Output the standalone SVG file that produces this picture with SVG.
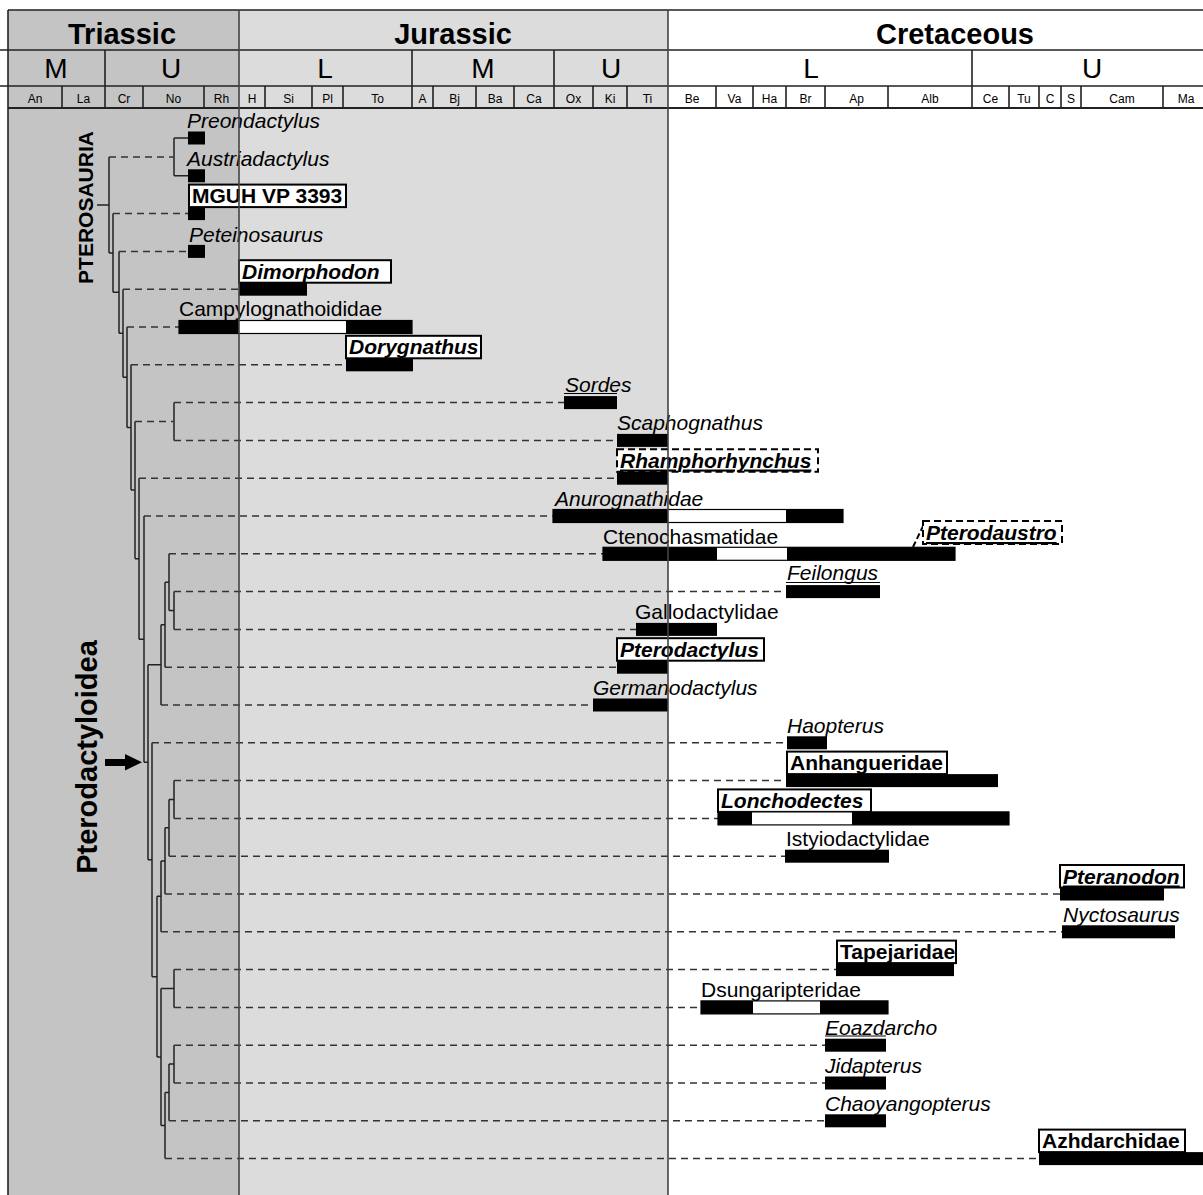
<svg xmlns="http://www.w3.org/2000/svg" width="1203" height="1195" viewBox="0 0 1203 1195">
<style>
text{font-family:"Liberation Sans",Arial,sans-serif;fill:#000}
.h1{font-size:29px;font-weight:bold;text-anchor:middle}
.h2{font-size:28px;text-anchor:middle}
.h3{font-size:12px;text-anchor:middle}
.t{font-size:21px}
.i{font-size:21px;font-style:italic}
.b{font-size:21px;font-weight:bold}
.bi{font-size:21px;font-weight:bold;font-style:italic}
.u{text-decoration:underline}
.box{fill:#fff;stroke:#000;stroke-width:2}
.dbox{fill:#fff;stroke:#000;stroke-width:2;stroke-dasharray:7 4}
.bar{fill:#000}
.wbar{fill:#fff;stroke:#000;stroke-width:1.2}
.grid{stroke:#222;stroke-width:1.6;fill:none}
.per{stroke:#444;stroke-width:1.6}
.tr{stroke:#222;stroke-width:1.5;fill:none}
.dl{stroke:#333;stroke-width:1.5;stroke-dasharray:7 5;fill:none}
.ul{stroke:#000;stroke-width:1.2}
</style>
<rect x="0" y="0" width="1203" height="1195" fill="#fff"/>
<!-- backgrounds -->
<rect x="8" y="10" width="231" height="1185" fill="#c4c4c4"/>
<rect x="239" y="10" width="429" height="1185" fill="#dcdcdc"/>
<!-- header -->
<g id="header">
<path class="grid" d="M8 10H1203M0 50H1203M0 86H1203"/>
<path d="M8 108H1203" stroke="#222" stroke-width="2.2"/>
<path class="grid" d="M8 10V1195"/>
<path class="grid" d="M105 50V108M412 50V108M554 50V108M972 50V108"/>
<path class="grid" d="M62 86V108M143 86V108M204 86V108M265 86V108M312 86V108M343 86V108M433 86V108M476 86V108M514 86V108M593 86V108M627 86V108M716 86V108M753 86V108M786 86V108M825 86V108M888 86V108M1009 86V108M1039 86V108M1061 86V108M1081 86V108M1163 86V108"/>
<text class="h1" x="122" y="44">Triassic</text>
<text class="h1" x="453" y="44">Jurassic</text>
<text class="h1" x="955" y="44">Cretaceous</text>
<text class="h2" x="56" y="78">M</text>
<text class="h2" x="171" y="78">U</text>
<text class="h2" x="325" y="78">L</text>
<text class="h2" x="483" y="78">M</text>
<text class="h2" x="611" y="78">U</text>
<text class="h2" x="811" y="78">L</text>
<text class="h2" x="1092" y="78">U</text>
<text class="h3" x="35" y="103">An</text>
<text class="h3" x="83.5" y="103">La</text>
<text class="h3" x="124" y="103">Cr</text>
<text class="h3" x="173.5" y="103">No</text>
<text class="h3" x="221.5" y="103">Rh</text>
<text class="h3" x="252" y="103">H</text>
<text class="h3" x="288.5" y="103">Si</text>
<text class="h3" x="327.5" y="103">Pl</text>
<text class="h3" x="377.5" y="103">To</text>
<text class="h3" x="422.5" y="103">A</text>
<text class="h3" x="454.5" y="103">Bj</text>
<text class="h3" x="495" y="103">Ba</text>
<text class="h3" x="534" y="103">Ca</text>
<text class="h3" x="573.5" y="103">Ox</text>
<text class="h3" x="610" y="103">Ki</text>
<text class="h3" x="647.5" y="103">Ti</text>
<text class="h3" x="692" y="103">Be</text>
<text class="h3" x="734.5" y="103">Va</text>
<text class="h3" x="769.5" y="103">Ha</text>
<text class="h3" x="805.5" y="103">Br</text>
<text class="h3" x="856.5" y="103">Ap</text>
<text class="h3" x="930" y="103">Alb</text>
<text class="h3" x="990.5" y="103">Ce</text>
<text class="h3" x="1024" y="103">Tu</text>
<text class="h3" x="1050" y="103">C</text>
<text class="h3" x="1071" y="103">S</text>
<text class="h3" x="1122" y="103">Cam</text>
<text class="h3" x="1186" y="103">Ma</text>
</g>
<!-- clade labels -->
<g id="clade-labels">
<text class="b" transform="translate(93,207.5) rotate(-90)" text-anchor="middle">PTEROSAURIA</text>
<text class="b" style="font-size:29px" transform="translate(97,757) rotate(-90)" text-anchor="middle">Pterodactyloidea</text>
<path d="M105 759H125V754L142 762.3L125 770.5V766H105Z" fill="#000"/>
</g>
<!-- connectors -->
<g id="connectors">
<path class="tr" d="M97 204.9H109M109 156.9V252.95M174 138V175.8M174 138H188M174 175.8H188M109 252.95H113M113 213.6V292.3M113 292.3H119M119 251.4V333.2M119 333.2H123M123 289.2V377.2M123 377.2H127M127 327V427.45M127 427.45H131M131 364.8V490.1M131 490.1H135M135 421.5V558.7M174 402.6V440.4M135 558.7H139M139 478.2V639.15M139 639.15H144M144 516V762.3M144 762.3H148M148 664.85V859.75M148 664.85H161M161 624.7V705M161 624.7H165M165 582.15V667.2M165 582.15H169M169 553.8V610.5M169 610.5H174M174 591.6V629.4M148 859.75H152M152 742.8V976.7M152 976.7H157M157 896.35V1057M157 896.35H161M161 860.9V931.8M161 860.9H165M165 827.85V894M165 827.85H169M169 799.5V856.2M169 799.5H174M174 780.6V818.4M157 1057H161M161 988.5V1125.5M161 988.5H174M174 969.6V1007.4M161 1125.5H165M165 1092.45V1158.6M165 1092.45H169M169 1064.1V1120.8M169 1064.1H174M174 1045.2V1083"/>
<path class="dl" d="M109 156.9H174M135 421.5H174"/>
<path class="dl" d="M113 213.6H188M119 251.4H188M123 289.2H239M127 327H179M131 364.8H346M174 402.6H564M174 440.4H617M139 478.2H617M144 516H553M169 553.8H603M174 591.6H786M174 629.4H636M165 667.2H617M161 705H593M152 742.8H787M174 780.6H786M174 818.4H718M169 856.2H785M165 894H1060M161 931.8H1062M174 969.6H836M174 1007.4H701M174 1045.2H825M174 1083H825M169 1120.8H825M165 1158.6H1039"/>
</g>
<!-- taxa -->
<g id="preondactylus"><rect class="bar" x="188" y="131.5" width="17" height="13"/><text class="i" x="187" y="128">Preondactylus</text></g>
<g id="austriadactylus"><rect class="bar" x="188" y="169.3" width="17" height="13"/><text class="i" x="187" y="166">Austriadactylus</text></g>
<g id="mguh"><rect class="box" x="189" y="184.6" width="157" height="22.5"/><rect class="bar" x="188" y="207.1" width="17" height="13"/><text class="b" x="192" y="203">MGUH VP 3393</text></g>
<g id="peteinosaurus"><rect class="bar" x="188" y="244.9" width="17" height="13"/><text class="i" x="189" y="242">Peteinosaurus</text></g>
<g id="dimorphodon"><rect class="box" x="239" y="260.2" width="152" height="22.5"/><rect class="bar" x="239" y="282.7" width="68" height="13"/><text class="bi" x="242" y="278.5">Dimorphodon</text></g>
<g id="campylognathoididae"><rect class="wbar" x="179" y="320.5" width="233" height="13"/><rect class="bar" x="179" y="320.5" width="60" height="13"/><rect class="bar" x="346" y="320.5" width="66" height="13"/><text class="t" x="179" y="316">Campylognathoididae</text></g>
<g id="dorygnathus"><rect class="box" x="346" y="335.8" width="135" height="22.5"/><rect class="bar" x="346" y="358.3" width="67" height="13"/><text class="bi" x="349" y="354">Dorygnathus</text></g>
<g id="sordes"><rect class="bar" x="564" y="396.1" width="53" height="13"/><path class="ul" d="M564 393.5H617"/><text class="i" x="565" y="392">Sordes</text></g>
<g id="scaphognathus"><rect class="bar" x="617" y="433.9" width="51" height="13"/><text class="i" x="617" y="430">Scaphognathus</text></g>
<g id="rhamphorhynchus"><rect class="dbox" x="617" y="449.2" width="201" height="22.5"/><rect class="bar" x="617" y="471.7" width="51" height="13"/><text class="bi u" x="620" y="467.5">Rhamphorhynchus</text></g>
<g id="anurognathidae"><rect class="wbar" x="553" y="509.5" width="290" height="13"/><rect class="bar" x="553" y="509.5" width="115" height="13"/><rect class="bar" x="786" y="509.5" width="57" height="13"/><text class="i" x="555" y="506">Anurognathidae</text></g>
<g id="ctenochasmatidae"><rect class="wbar" x="603" y="547.3" width="352" height="13"/><rect class="bar" x="603" y="547.3" width="114" height="13"/><rect class="bar" x="787" y="547.3" width="168" height="13"/><text class="t" x="603" y="544">Ctenochasmatidae</text></g>
<g id="pterodaustro"><path d="M913 547L925 522" stroke="#000" stroke-width="2" stroke-dasharray="6 3"/><rect class="dbox" x="923" y="521" width="139" height="23"/><text class="bi u" x="926" y="540">Pterodaustro</text></g>
<g id="feilongus"><rect class="bar" x="786" y="585.1" width="94" height="13"/><path class="ul" d="M786 582.5H880"/><text class="i" x="787" y="580">Feilongus</text></g>
<g id="gallodactylidae"><rect class="bar" x="636" y="622.9" width="81" height="13"/><text class="t" x="635" y="619">Gallodactylidae</text></g>
<g id="pterodactylus"><rect class="box" x="617" y="638.2" width="147" height="22.5"/><rect class="bar" x="617" y="660.7" width="51" height="13"/><text class="bi" x="620" y="656.5">Pterodactylus</text></g>
<g id="germanodactylus"><rect class="bar" x="593" y="698.5" width="75" height="13"/><text class="i" x="593" y="695">Germanodactylus</text></g>
<g id="haopterus"><rect class="bar" x="787" y="736.3" width="40" height="13"/><text class="i" x="787" y="732.5">Haopterus</text></g>
<g id="anhangueridae"><rect class="box" x="787" y="751.6" width="160" height="22.5"/><rect class="bar" x="786" y="774.1" width="212" height="13"/><text class="b" x="790" y="770">Anhangueridae</text></g>
<g id="lonchodectes"><rect class="box" x="718" y="789.4" width="153" height="22.5"/><rect class="wbar" x="718" y="811.9" width="291" height="13"/><rect class="bar" x="718" y="811.9" width="34" height="13"/><rect class="bar" x="852" y="811.9" width="157" height="13"/><text class="bi" x="721" y="808">Lonchodectes</text></g>
<g id="istyiodactylidae"><rect class="bar" x="785" y="849.7" width="104" height="13"/><text class="t" x="786" y="846">Istyiodactylidae</text></g>
<g id="pteranodon"><rect class="box" x="1060" y="865" width="124" height="22.5"/><rect class="bar" x="1060" y="887.5" width="104" height="13"/><text class="bi u" x="1063" y="883.5">Pteranodon</text></g>
<g id="nyctosaurus"><rect class="bar" x="1062" y="925.3" width="113" height="13"/><text class="i" x="1063" y="921.5">Nyctosaurus</text></g>
<g id="tapejaridae"><rect class="box" x="837" y="940.6" width="119" height="22.5"/><rect class="bar" x="836" y="963.1" width="118" height="13"/><text class="b" x="840" y="959">Tapejaridae</text></g>
<g id="dsungaripteridae"><rect class="wbar" x="701" y="1000.9" width="187" height="13"/><rect class="bar" x="701" y="1000.9" width="52" height="13"/><rect class="bar" x="820" y="1000.9" width="68" height="13"/><text class="t" x="701" y="997">Dsungaripteridae</text></g>
<g id="eoazdarcho"><rect class="bar" x="825" y="1038.7" width="61" height="13"/><path class="ul" d="M825 1036H886"/><text class="i" x="825" y="1035">Eoazdarcho</text></g>
<g id="jidapterus"><rect class="bar" x="825" y="1076.5" width="61" height="13"/><text class="i" x="825" y="1073">Jidapterus</text></g>
<g id="chaoyangopterus"><rect class="bar" x="825" y="1114.3" width="61" height="13"/><text class="i" x="825" y="1110.5">Chaoyangopterus</text></g>
<g id="azhdarchidae"><rect class="box" x="1039" y="1129.6" width="146" height="22.5"/><rect class="bar" x="1039" y="1152.1" width="164" height="13"/><text class="b" x="1042" y="1148">Azhdarchidae</text></g>
<!-- period boundaries on top -->
<g id="period-lines">
<path class="per" d="M239 10V1195M668 10V1195"/>
</g>
</svg>
